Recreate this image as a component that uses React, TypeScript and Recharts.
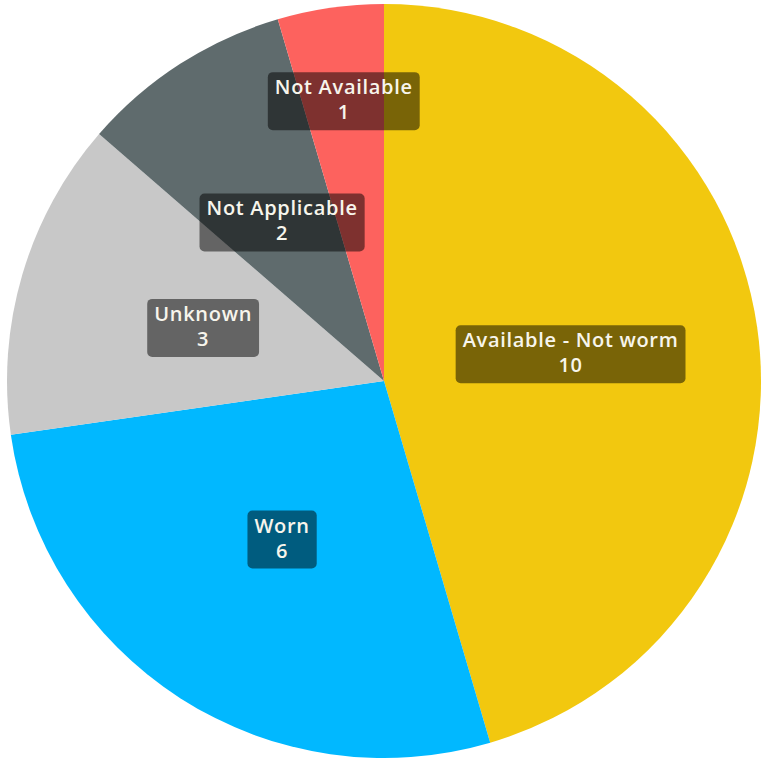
import { PieChart, Pie, Cell } from 'recharts'

const categories = ['Available - Not worm', 'Worn', 'Unknown', 'Not Applicable', 'Not Available']
const counts = [10, 6, 3, 2, 1]
const colors = ['#F2C80F', '#01B8FF', '#C8C8C8', '#5F6B6D', '#FD625E']

const data = categories.map((name, i) => ({ name, value: counts[i] }))

const RAD = Math.PI / 180
const FONT = '600 20px "Open Sans"'
const SPACING = 0.7

let ctx: CanvasRenderingContext2D | null = null
function textWidth(s: string) {
  if (!ctx) ctx = document.createElement('canvas').getContext('2d')
  if (!ctx) return s.length * 11
  ctx.font = FONT
  return ctx.measureText(s).width + s.length * SPACING
}

function renderLabel(props: any) {
  const { cx, cy, midAngle, outerRadius, percent, name, value } = props
  // tiny slices get their label pushed outward
  const r = outerRadius * (percent < 0.06 ? 0.75 : 0.5)
  const x = cx + r * Math.cos(-midAngle * RAD)
  const y = cy + r * Math.sin(-midAngle * RAD)
  const w = Math.max(textWidth(name), textWidth(String(value))) + 14
  const h = 58
  return (
    <g>
      <rect x={x - w / 2} y={y - h / 2} width={w} height={h} rx={5} ry={5} fill="rgba(0,0,0,0.5)" />
      <text
        x={x}
        y={y - 7}
        textAnchor="middle"
        fill="#F7F5EC"
        style={{ font: FONT, letterSpacing: `${SPACING}px` }}
      >
        {name}
      </text>
      <text
        x={x}
        y={y + 18}
        textAnchor="middle"
        fill="#F7F5EC"
        style={{ font: FONT, letterSpacing: `${SPACING}px` }}
      >
        {value}
      </text>
    </g>
  )
}

export default function App() {
  return (
    <div style={{ position: 'absolute', left: 0, top: 0, background: '#fff' }}>
      <PieChart width={763} height={761} margin={{ top: 0, right: 0, bottom: 0, left: 0 }}>
        <Pie
          data={data}
          dataKey="value"
          nameKey="name"
          cx={384}
          cy={381}
          outerRadius={377}
          startAngle={90}
          endAngle={-270}
          stroke="none"
          label={renderLabel}
          labelLine={false}
          isAnimationActive={false}
        >
          {data.map((d, i) => (
            <Cell key={d.name} fill={colors[i]} />
          ))}
        </Pie>
      </PieChart>
    </div>
  )
}
